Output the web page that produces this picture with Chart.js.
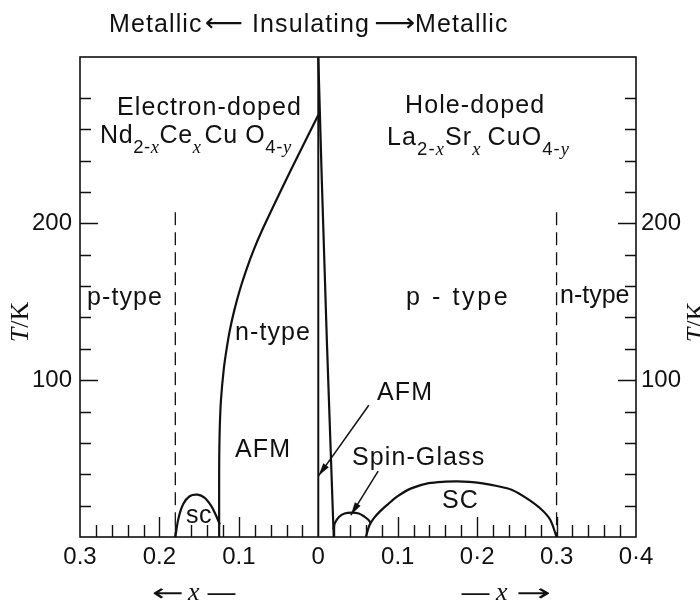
<!DOCTYPE html>
<html>
<head>
<meta charset="utf-8">
<script src="https://cdn.jsdelivr.net/npm/chart.js@4/dist/chart.umd.min.js"></script>
<style>
  html, body { margin: 0; padding: 0; background: #fff; }
  #wrap { width: 700px; height: 603px; }
</style>
</head>
<body>
<div id="wrap"><canvas id="chart" width="700" height="603"></canvas></div>
<script>
// ---- Phase boundaries: doping x and temperature T (K) ----
// Electron-doped Nd2-xCexCuO4-y (plotted to the left of x = 0)
const nccoNeelX = [0, 0.0345, 0.0706, 0.0813, 0.0906, 0.0988, 0.1056, 0.1113, 0.1156, 0.1191, 0.1225, 0.1241, 0.1248, 0.1248];
const nccoNeelT = [269, 233.9, 195.7, 183, 170.3, 157.5, 144.8, 132, 119.3, 106.6, 87.5, 68.4, 43, 0];
const nccoScX = [0.18, 0.176, 0.170, 0.162, 0.152, 0.143, 0.135, 0.129, 0.124];
const nccoScT = [0, 12, 21, 26, 27, 25, 20, 14, 8];
const nccoTypeX = [0.18, 0.18];
const nccoTypeT = [207, 0];

// Hole-doped La2-xSrxCuO4-y (plotted to the right of x = 0)
const lscoNeelX = [0, 0.0044, 0.0108, 0.0184, 0.0195];
const lscoNeelT = [306, 228, 125, 15, 0];
const lscoGlassX = [0.019, 0.021, 0.026, 0.033, 0.042, 0.051, 0.058, 0.063, 0.066];
const lscoGlassT = [5, 9, 12.8, 15, 15.6, 15, 13, 11, 9];
const lscoScX = [0.06, 0.064, 0.07, 0.078, 0.088, 0.1, 0.117, 0.139, 0.16, 0.175, 0.19, 0.205, 0.225, 0.244, 0.263, 0.28, 0.292, 0.3];
const lscoScT = [0, 7, 12, 16.5, 21, 26, 31, 34.3, 35.3, 35.5, 35.2, 34.3, 32.5, 30, 24.5, 18, 11, 0];
const lscoTypeX = [0.3, 0.3];
const lscoTypeT = [207, 0];

// Undoped parent compounds sit on the x = 0 line
const parentX = [0, 0];
const parentT = [0, 306];

// Pointer lines for the AFM and spin-glass labels (hole side)
const afmPointerX = [0.0636, 0.0003];
const afmPointerT = [84, 39];
const glassPointerX = [0.0754, 0.041];
const glassPointerT = [42, 14];

// ---- Axes ----
const X_MIN = -0.3, X_MAX = 0.4;
const T_MIN = 0, T_MAX = 306;
const xTickValues = [-0.3, -0.2, -0.1, 0, 0.1, 0.2, 0.3, 0.4];
const xTickLabels = ['0.3', '0.2', '0.1', '0', '0.1', '0·2', '0.3', '0·4'];
const tTickValues = [100, 200];
const tTickLabels = ['100', '200'];
const tMinorStep = 20, tMinorMax = 280;
const xMinorStep = 0.02;

const SANS = '"Liberation Sans", Arial, sans-serif';
const SERIF = '"Liberation Serif", "Times New Roman", serif';
const INK = '#111';

function pts(xs, ts, sign) {
  return xs.map((x, i) => ({ x: sign * x, y: ts[i] }));
}

function line(xs, ts, sign, extra) {
  return Object.assign({
    data: pts(xs, ts, sign),
    showLine: true,
    borderColor: INK,
    borderWidth: 2.2,
    pointRadius: 0,
    tension: 0.35,
    fill: false,
    yAxisID: 'y'
  }, extra || {});
}

const datasets = [
  line(parentX, parentT, 1, { tension: 0, borderWidth: 2 }),
  line(nccoNeelX, nccoNeelT, -1, { tension: 0.3 }),
  line(nccoScX, nccoScT, -1),
  line(nccoTypeX, nccoTypeT, -1, { tension: 0, borderWidth: 1.3, borderDash: [13, 7] }),
  line(lscoNeelX, lscoNeelT, 1, { tension: 0 }),
  line(lscoGlassX, lscoGlassT, 1),
  line(lscoScX, lscoScT, 1, { tension: 0.3 }),
  line(lscoTypeX, lscoTypeT, 1, { tension: 0, borderWidth: 1.3, borderDash: [13, 7] }),
  line(afmPointerX, afmPointerT, 1, { tension: 0, borderWidth: 1.5, arrowHead: true }),
  line(glassPointerX, glassPointerT, 1, { tension: 0, borderWidth: 1.5, arrowHead: true })
];

// draw a run of text pieces; sub = subscript, it = italic serif
function richText(ctx, x, y, parts, size, spacing) {
  ctx.letterSpacing = (spacing || 0) + 'px';
  for (const p of parts) {
    const s = p.sub ? size * 0.74 : size;
    ctx.font = (p.it ? 'italic ' : '') + s + 'px ' + (p.it ? SERIF : SANS);
    const dy = p.sub ? size * 0.4 : 0;
    ctx.fillText(p.t, x, y + dy);
    x += ctx.measureText(p.t).width + (p.gap || 0);
  }
  ctx.letterSpacing = '0px';
}

// arrow glyph stretched to a given width
function arrowGlyph(ctx, glyph, x, y, w, size) {
  ctx.save();
  ctx.font = size + 'px "DejaVu Sans", sans-serif';
  const m = ctx.measureText(glyph).width;
  ctx.translate(x, y);
  ctx.scale(w / m, 1);
  ctx.fillText(glyph, 0, 0);
  ctx.restore();
}

const decor = {
  id: 'decor',
  afterDatasetsDraw(chart) {
    const ctx = chart.ctx;
    const a = chart.chartArea;
    const xs = chart.scales.x, ys = chart.scales.y;
    ctx.save();
    ctx.strokeStyle = INK;
    ctx.fillStyle = INK;

    // pointer heads
    chart.data.datasets.forEach((ds, i) => {
      if (!ds.arrowHead) return;
      const meta = chart.getDatasetMeta(i).data;
      const p1 = meta[meta.length - 2], p2 = meta[meta.length - 1];
      const ang = Math.atan2(p2.y - p1.y, p2.x - p1.x);
      const L = 13, W = 3.4;
      ctx.beginPath();
      ctx.moveTo(p2.x, p2.y);
      ctx.lineTo(p2.x - L * Math.cos(ang) + W * Math.sin(ang), p2.y - L * Math.sin(ang) - W * Math.cos(ang));
      ctx.lineTo(p2.x - L * Math.cos(ang) - W * Math.sin(ang), p2.y - L * Math.sin(ang) + W * Math.cos(ang));
      ctx.closePath();
      ctx.fill();
    });

    // frame
    ctx.lineWidth = 1.6;
    ctx.strokeRect(a.left, a.top, a.right - a.left, a.bottom - a.top);

    // inward tick marks on the temperature axes
    ctx.lineWidth = 1.4;
    for (let t = tMinorStep; t <= tMinorMax; t += tMinorStep) {
      const y = Math.round(ys.getPixelForValue(t)) + 0.5;
      const len = tTickValues.includes(t) ? 18 : 11;
      ctx.beginPath();
      ctx.moveTo(a.left, y); ctx.lineTo(a.left + len, y);
      ctx.moveTo(a.right, y); ctx.lineTo(a.right - len, y);
      ctx.stroke();
    }
    // inward tick marks on the doping axis
    const nMinor = Math.round((X_MAX - X_MIN) / xMinorStep);
    for (let k = 1; k < nMinor; k++) {
      const v = X_MIN + k * xMinorStep;
      if (Math.abs(v) < 1e-9) continue;
      const major = xTickValues.some(t => Math.abs(t - v) < 1e-9);
      const x = Math.round(xs.getPixelForValue(v)) + 0.5;
      ctx.beginPath();
      ctx.moveTo(x, a.bottom); ctx.lineTo(x, a.bottom - (major ? 20 : 12));
      ctx.stroke();
    }

    // headline
    ctx.textBaseline = 'alphabetic';
    ctx.textAlign = 'left';
    const S = 25, SP = 1.1;
    richText(ctx, 109, 32, [{ t: 'Metallic' }], S, SP);
    arrowGlyph(ctx, '\u27F5', 205, 31, 38, S);
    richText(ctx, 252, 32, [{ t: 'Insulating' }], S, SP);
    arrowGlyph(ctx, '\u27F6', 374, 31, 41, S);
    richText(ctx, 415, 32, [{ t: 'Metallic' }], S, SP);

    // compound names
    richText(ctx, 117, 115, [{ t: 'Electron-doped' }], S, SP);
    richText(ctx, 100, 143, [
      { t: 'Nd' }, { t: '2-', sub: true }, { t: 'x', sub: true, it: true },
      { t: 'Ce' }, { t: 'x', sub: true, it: true, gap: 3 },
      { t: 'Cu O' }, { t: '4-', sub: true }, { t: 'y', sub: true, it: true }
    ], S, 0.6);
    richText(ctx, 405, 113, [{ t: 'Hole-doped' }], S, SP);
    richText(ctx, 387, 145, [
      { t: 'La' }, { t: '2-', sub: true }, { t: 'x', sub: true, it: true },
      { t: 'Sr' }, { t: 'x', sub: true, it: true, gap: 6 },
      { t: 'CuO' }, { t: '4-', sub: true }, { t: 'y', sub: true, it: true }
    ], S, SP);

    // region labels
    const regions = [
      ['p-type', 87, 305, SP], ['n-type', 235, 340, SP], ['AFM', 235, 457, SP],
      ['p - type', 406, 305, 2.6], ['n-type', 560, 303, 0], ['AFM', 377, 400, SP],
      ['Spin-Glass', 352, 465, SP], ['SC', 442, 508, SP], ['sc', 186, 523, 0.5]
    ];
    for (const [t, x, y, sp] of regions) richText(ctx, x, y, [{ t }], S, sp);

    // axis titles T/K (rotated) on both sides
    const tk = (cx, cy) => {
      ctx.save();
      ctx.translate(cx, cy);
      ctx.rotate(-Math.PI / 2);
      ctx.textBaseline = 'middle';
      ctx.font = 'italic 26px ' + SERIF;
      const w1 = ctx.measureText('T').width;
      ctx.font = '26px ' + SERIF;
      const w2 = ctx.measureText('/K').width;
      let x = -(w1 + w2) / 2;
      ctx.font = 'italic 26px ' + SERIF;
      ctx.fillText('T', x, 0);
      ctx.font = '26px ' + SERIF;
      ctx.fillText('/K', x + w1, 0);
      ctx.restore();
    };
    tk(21, 322);
    tk(697, 322);

    // doping direction arrows under the axis
    ctx.textBaseline = 'middle';
    arrowGlyph(ctx, '\u2190', 152, 595, 32, 24);
    ctx.font = 'italic 26px ' + SERIF;
    ctx.fillText('x', 188, 593);
    arrowGlyph(ctx, '\u2014', 206, 595, 31, 24);
    arrowGlyph(ctx, '\u2014', 460, 595, 31, 24);
    ctx.font = 'italic 26px ' + SERIF;
    ctx.fillText('x', 496, 593);
    arrowGlyph(ctx, '\u2192', 516, 595, 35, 24);

    ctx.restore();
  }
};

const tickFont = { family: SANS, size: 24 };

new Chart(document.getElementById('chart'), {
  type: 'scatter',
  data: { datasets },
  options: {
    responsive: false,
    animation: false,
    devicePixelRatio: 1,
    layout: { padding: { top: 57, left: 0, right: 0, bottom: 0 } },
    plugins: { legend: { display: false }, tooltip: { enabled: false } },
    scales: {
      x: {
        type: 'linear', min: X_MIN, max: X_MAX,
        grid: { display: false, drawTicks: false }, border: { display: false },
        afterBuildTicks: s => { s.ticks = xTickValues.map(v => ({ value: v })); },
        afterFit: s => { s.height = 66; },
        ticks: {
          color: INK, font: tickFont, padding: 6, maxRotation: 0, autoSkip: false,
          callback: (v, i) => xTickLabels[i]
        }
      },
      y: {
        type: 'linear', position: 'left', min: T_MIN, max: T_MAX,
        grid: { display: false, drawTicks: false }, border: { display: false },
        afterBuildTicks: s => { s.ticks = tTickValues.map(v => ({ value: v })); },
        afterFit: s => { s.width = 80; },
        ticks: { color: INK, font: tickFont, padding: 8, callback: (v, i) => tTickLabels[i] }
      },
      y2: {
        type: 'linear', position: 'right', min: T_MIN, max: T_MAX,
        grid: { display: false, drawTicks: false }, border: { display: false },
        afterBuildTicks: s => { s.ticks = tTickValues.map(v => ({ value: v })); },
        afterFit: s => { s.width = 64; },
        ticks: { color: INK, font: tickFont, padding: 5, callback: (v, i) => tTickLabels[i] }
      }
    }
  },
  plugins: [decor]
});
</script>
</body>
</html>
